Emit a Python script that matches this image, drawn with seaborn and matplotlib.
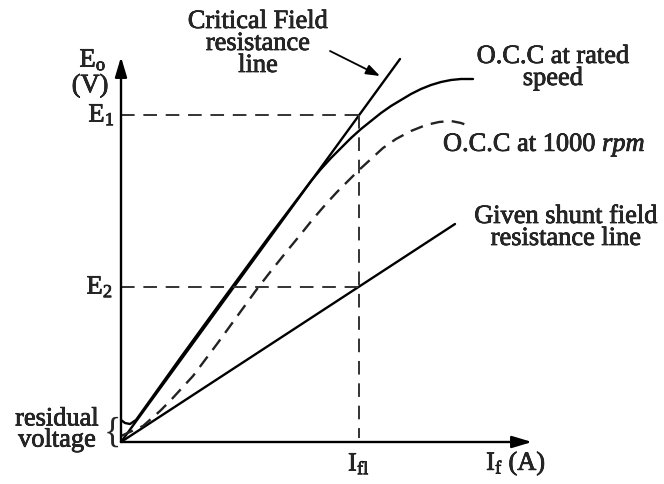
import matplotlib
matplotlib.use("Agg")
import matplotlib.pyplot as plt
import matplotlib.patheffects as pe
import seaborn as sns
import pandas as pd

# ---- data (pixel-like units, origin at the axes crossing) ----
I_fl = 238
E1 = 327
E2 = 155

crit_x = [0, 279]
crit_y = [0, 383]

shunt_x = [0, 334]
shunt_y = [0, 218]

occ_rated_x = [0, 4, 9, 15, 25, 60, 100, 150, 190, 200, 210, 220, 230, 240, 250, 260, 270,
               280, 290, 300, 310, 320, 330, 340, 352]
occ_rated_y = [22, 19, 18, 22, 36, 85, 140, 208, 261, 273, 284, 294, 304, 313, 321, 329, 336,
               342, 348, 353, 357, 360, 362, 363, 363]

occ_1000_x = [0, 22, 39, 49, 72, 96, 120, 136, 150, 166, 180, 192, 205, 216, 228, 238, 250,
              262, 275, 290, 305, 318, 330, 340, 351]
occ_1000_y = [6, 16, 31, 41, 66, 98, 131, 153, 171, 191, 208, 223, 238, 250, 262, 272, 283,
              294, 303, 311, 317, 320, 321, 319, 315]

x_axis_len = 411
y_axis_len = 385

sns.set_theme(style="white")
plt.rcParams["font.family"] = ["Liberation Serif", "DejaVu Serif"]
plt.rcParams["mathtext.fontset"] = "custom"
plt.rcParams["mathtext.rm"] = "Liberation Serif"
plt.rcParams["mathtext.it"] = "Liberation Serif:italic"

fig = plt.figure(figsize=(6.64, 4.85), dpi=100)
ax = fig.add_axes([0, 0, 1, 1])
ax.set_xlim(-121, 543)
ax.set_ylim(-42, 443)
ax.axis("off")

lw = 1.7
dash_col = "#333333"

df_crit = pd.DataFrame({"x": crit_x, "y": crit_y})
df_shunt = pd.DataFrame({"x": shunt_x, "y": shunt_y})
df_rated = pd.DataFrame({"x": occ_rated_x, "y": occ_rated_y})
df_1000 = pd.DataFrame({"x": occ_1000_x, "y": occ_1000_y})

sns.lineplot(data=df_crit, x="x", y="y", ax=ax, color="black", lw=lw, sort=False)
sns.lineplot(data=df_shunt, x="x", y="y", ax=ax, color="black", lw=lw, sort=False)
sns.lineplot(data=df_rated, x="x", y="y", ax=ax, color="black", lw=lw, sort=False)
sns.lineplot(data=df_1000, x="x", y="y", ax=ax, color="#222222", lw=lw, sort=False,
             linestyle=(0, (5.5, 3.5)))

# guide lines
gs = (0, (7, 4.5))
ax.plot([0, I_fl], [E1, E1], color=dash_col, lw=1.4, linestyle=gs)
ax.plot([0, I_fl], [E2, E2], color=dash_col, lw=1.4, linestyle=gs)
ax.plot([I_fl, I_fl], [E1, 4], color=dash_col, lw=1.4, linestyle=gs)

# axes arrows
ax.annotate("", xy=(x_axis_len, 0), xytext=(0, 0),
            arrowprops=dict(arrowstyle="-|>,head_length=1.0,head_width=0.3", color="black", lw=1.7,
                            shrinkA=0, shrinkB=0))
ax.annotate("", xy=(0, y_axis_len), xytext=(0, 0),
            arrowprops=dict(arrowstyle="-|>,head_length=1.0,head_width=0.3", color="black", lw=1.7,
                            shrinkA=0, shrinkB=0))

fs = 19
eff = [pe.withStroke(linewidth=0.5, foreground="black")]
ls = 1.0


def txt(x, y, s, **kw):
    kw.setdefault("fontsize", fs)
    t = ax.text(x, y, s, **kw)
    t.set_path_effects(eff)
    return t


txt(137, 398, "Critical Field\nresistance\nline", ha="center", va="center", linespacing=ls)
ax.annotate("", xy=(259, 366), xytext=(209, 391),
            arrowprops=dict(arrowstyle="-|>,head_length=0.7,head_width=0.25", color="black", lw=1.3,
                            shrinkA=0, shrinkB=0))
txt(432, 374, "O.C.C at rated\nspeed", ha="center", va="center", linespacing=ls)
txt(322, 297, "O.C.C at 1000 $\\it{rpm}$", ha="left", va="center")
txt(445, 214, "Given shunt field\nresistance line", ha="center", va="center", linespacing=ls)

txt(-6, E1, "E$_1$", ha="right", va="center")
txt(-8, E2, "E$_2$", ha="right", va="center")
txt(-28, 382, "E$_\\mathrm{o}$", ha="center", va="center")
txt(-31, 356, "(V)", ha="center", va="center")
txt(I_fl, -22, "I$_\\mathrm{fl}$", ha="center", va="center")
txt(395, -22, "I$_\\mathrm{f}$ (A)", ha="center", va="center")
txt(-64, 12, "residual\nvoltage", ha="center", va="center", linespacing=0.95)
ax.text(-9, 10, "{", ha="center", va="center", fontsize=26)

fig.savefig("out.png", dpi=100)
